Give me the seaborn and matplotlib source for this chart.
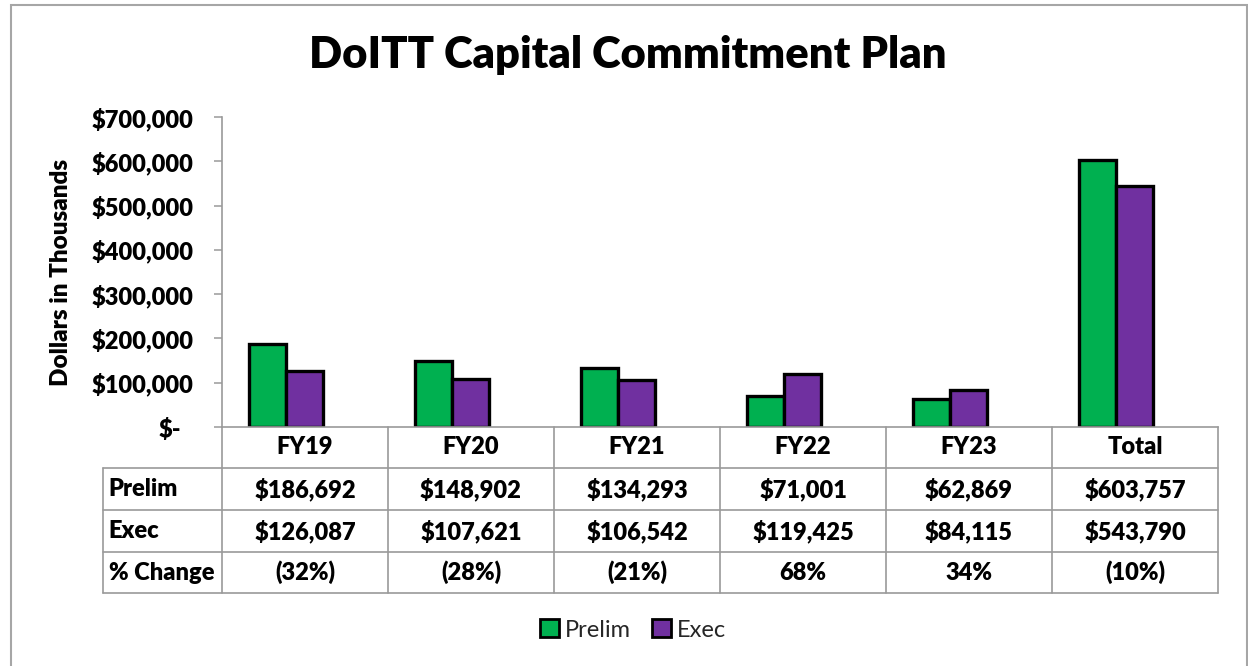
import numpy as np
import pandas as pd
import matplotlib
matplotlib.use("Agg")
import matplotlib.pyplot as plt
import matplotlib.transforms as mtransforms
from matplotlib.patches import Patch, Rectangle
from matplotlib.ticker import FuncFormatter
import seaborn as sns

# ---------------- data ----------------
categories = ["FY19", "FY20", "FY21", "FY22", "FY23", "Total"]
prelim = [186692, 148902, 134293, 71001, 62869, 603757]
exec_vals = [126087, 107621, 106542, 119425, 84115, 543790]
series_names = ["Prelim", "Exec"]
row_labels = ["Prelim", "Exec", "% Change"]
y_ticks = [0, 100000, 200000, 300000, 400000, 500000, 600000, 700000]

title = "DoITT Capital Commitment Plan"
y_label = "Dollars in Thousands"

GREEN = "#00B050"
PURPLE = "#7030A0"
GRID = "#9A9A9A"
BOLD = "heavy"

sns.set_theme(style="white")
plt.rcParams["font.family"] = ["Lato", "DejaVu Sans"]

W, H = 1248, 666
fig = plt.figure(figsize=(W / 100, H / 100), dpi=100)
fig.patch.set_facecolor("white")

# axes placement (pixels)
ax_left, ax_right, ax_top, ax_bottom = 222, 1218, 117, 427
ax = fig.add_axes([ax_left / W, 1 - ax_bottom / H, (ax_right - ax_left) / W, (ax_bottom - ax_top) / H])

df = pd.DataFrame({
    "category": categories * 2,
    "series": [series_names[0]] * len(categories) + [series_names[1]] * len(categories),
    "value": prelim + exec_vals,
})

sns.barplot(data=df, x="category", y="value", hue="series", order=categories,
            hue_order=series_names, palette=[GREEN, PURPLE], saturation=1,
            width=0.45, edgecolor="black", linewidth=2.4, legend=False, ax=ax)

shift = 0.115  # table columns are offset from bar groups
ax.set_xlim(-0.5 + shift, len(categories) - 0.5 + shift)
ax.set_ylim(0, 700000)
ax.set_yticks(y_ticks)

def money(v, pos=None):
    if v == 0:
        return "$-"
    return "${:,.0f}".format(v)

ax.yaxis.set_major_formatter(FuncFormatter(money))
ax.set_xticks([])
ax.set_xlabel("")
ax.set_ylabel("")
for s in ["top", "right"]:
    ax.spines[s].set_visible(False)
for s in ["left", "bottom"]:
    ax.spines[s].set_color(GRID)
    ax.spines[s].set_linewidth(1.2)
ax.tick_params(axis="y", direction="out", length=5.8, width=1.1, color=GRID,
               pad=15, labelsize=17)
ax.tick_params(axis="y", left=True)
for lbl in ax.get_yticklabels():
    lbl.set_fontweight(BOLD)
    lbl.set_color("black")
# Excel accounting alignment for zero label
fig.canvas.draw()
zero_lbl = ax.get_yticklabels()[0]
zero_lbl.set_transform(zero_lbl.get_transform() +
                       mtransforms.ScaledTranslation(-12 / 100, 0, fig.dpi_scale_trans))

# ---------------- data table ----------------
trans = ax.get_xaxis_transform()
axh = ax_bottom - ax_top

def ya(ypix):
    return (ax_bottom - ypix) / axh

row_edges_pix = [427, 468, 510, 552, 593]
row_edges = [ya(p) for p in row_edges_pix]
table_left = -0.5 + shift - (ax_left - 103) / ((ax_right - ax_left) / len(categories))
col_edges = [i - 0.5 + shift for i in range(len(categories) + 1)]
x_right = col_edges[-1]
lw = 1.2

for r in row_edges[1:]:
    ax.plot([table_left, x_right], [r, r], transform=trans, color=GRID, lw=lw, clip_on=False)
for c in col_edges:
    ax.plot([c, c], [row_edges[0], row_edges[-1]], transform=trans, color=GRID, lw=lw, clip_on=False)
ax.plot([table_left, table_left], [row_edges[1], row_edges[-1]], transform=trans,
        color=GRID, lw=lw, clip_on=False)

def pct(p, e):
    v = round((e - p) / p * 100)
    return "({}%)".format(abs(v)) if v < 0 else "{}%".format(v)

cell_rows = [
    ["${:,.0f}".format(v) for v in prelim],
    ["${:,.0f}".format(v) for v in exec_vals],
    [pct(p, e) for p, e in zip(prelim, exec_vals)],
]

fs_tab = 17
for i, cat in enumerate(categories):
    cx = i + shift
    ax.text(cx, (row_edges[0] + row_edges[1]) / 2, cat, transform=trans, ha="center",
            va="center", fontsize=fs_tab, fontweight=BOLD, color="black")
    for r in range(3):
        yc = (row_edges[r + 1] + row_edges[r + 2]) / 2
        ax.text(cx, yc, cell_rows[r][i], transform=trans, ha="center", va="center",
                fontsize=fs_tab, fontweight=BOLD, color="black")
for r, lab in enumerate(row_labels):
    yc = (row_edges[r + 1] + row_edges[r + 2]) / 2
    ax.text(table_left + 0.035, yc, lab, transform=trans, ha="left", va="center",
            fontsize=fs_tab, fontweight=BOLD, color="black")

# ---------------- titles ----------------
fig.text(628 / W, 1 - 68 / H, title, ha="center", va="baseline",
         fontsize=31.3, fontweight=BOLD, color="black")
fig.text(61 / W, 1 - 272 / H, y_label, ha="center", va="center", rotation=90,
         fontsize=17.5, fontweight=BOLD, color="black")

# ---------------- legend ----------------
handles = [Patch(facecolor=GREEN, edgecolor="black", linewidth=2),
           Patch(facecolor=PURPLE, edgecolor="black", linewidth=2)]
fig.legend(handles, series_names, loc="center", bbox_to_anchor=(633 / W, 1 - 630 / H),
           ncol=2, frameon=False, fontsize=17, handlelength=0.8, handleheight=0.8,
           handletextpad=0.25, columnspacing=0.9, borderaxespad=0)

# outer chart frame
fig.patches.append(Rectangle((10.5 / W, -0.05), (1247 - 10.5) / W, 1.05 - 5 / H,
                             transform=fig.transFigure, fill=False, edgecolor="#A6A6A6",
                             linewidth=1.5))

fig.savefig("out.png", dpi=100)
